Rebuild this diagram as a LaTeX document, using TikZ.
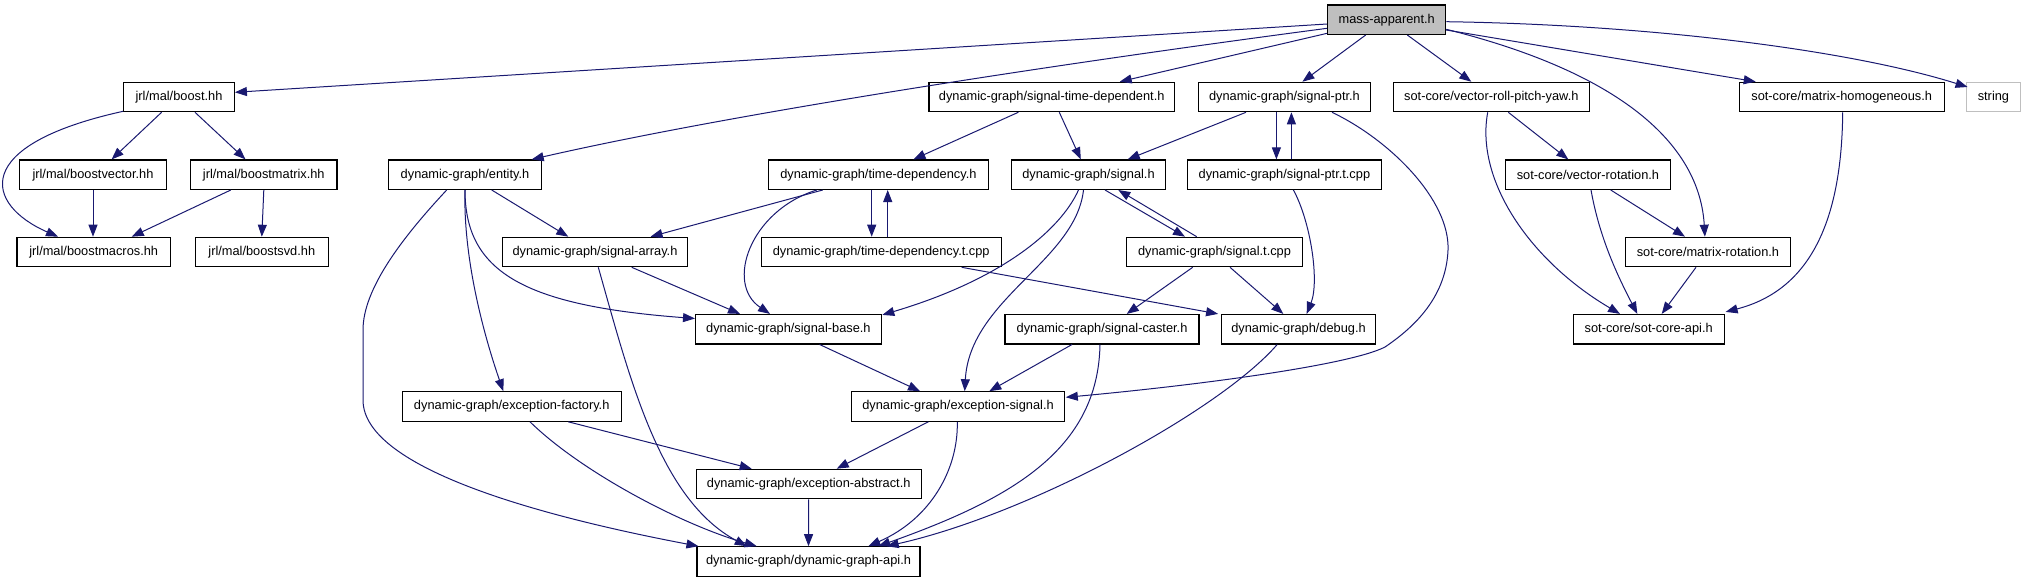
\documentclass[tikz,border=0pt]{standalone}
\usepackage{fontspec}
\setmainfont{Liberation Sans}
\usetikzlibrary{calc}
\usetikzlibrary{arrows.meta}
\tikzset{>={Triangle[length=12pt, width=9pt]}}
\definecolor{edgeblue}{RGB}{25,25,112}
\definecolor{boxgray}{RGB}{191,191,191}

\begin{document}
\begin{tikzpicture}[x=1pt, y=-1pt,
	file/.style={draw, line width=1.1pt, minimum height=29.5pt, inner sep=0pt, font=\fontsize{12.8}{15}\selectfont},
	dep/.style={edgeblue, line width=1pt, ->}]
\useasboundingbox (0, 0) rectangle (2025, 581);

\node (M) at (1386.7, 19.7) [file, fill=boxgray, minimum width=118pt] {mass-apparent.h};

\node (boost) at (179, 97) [file, minimum width=110.7pt] {jrl/mal/boost.hh};
\node (STD) at (1051.7, 97) [file, minimum width=245.5pt] {dynamic-graph/signal-time-dependent.h};
\node (SP) at (1284.4, 97) [file, minimum width=172.7pt] {dynamic-graph/signal-ptr.h};
\node (VRPY) at (1491.3, 97) [file, minimum width=196.5pt] {sot-core/vector-roll-pitch-yaw.h};
\node (MH) at (1841.7, 97) [file, minimum width=204.7pt] {sot-core/matrix-homogeneous.h};
\node (string) at (1993.4, 97) [file, draw=boxgray, minimum width=54pt] {string};

\node (BV) at (93, 174.7) [file, minimum width=147pt] {jrl/mal/boostvector.hh};
\node (BM) at (263.8, 174.7) [file, minimum width=146.4pt] {jrl/mal/boostmatrix.hh};
\node (entity) at (465, 174.7) [file, minimum width=152.3pt] {dynamic-graph/entity.h};
\node (TD) at (878.4, 174.7) [file, minimum width=219.3pt] {dynamic-graph/time-dependency.h};
\node (S) at (1088.5, 174.7) [file, minimum width=153.7pt] {dynamic-graph/signal.h};
\node (SPT) at (1284.4, 174.7) [file, minimum width=193.3pt] {dynamic-graph/signal-ptr.t.cpp};
\node (VR) at (1587.9, 174.7) [file, minimum width=165.7pt] {sot-core/vector-rotation.h};

\node (BMac) at (93.7, 252) [file, minimum width=153.5pt] {jrl/mal/boostmacros.hh};
\node (BSVD) at (261.8, 252) [file, minimum width=132.5pt] {jrl/mal/boostsvd.hh};
\node (SA) at (595, 252) [file, minimum width=185.5pt] {dynamic-graph/signal-array.h};
\node (TDT) at (881.2, 252) [file, minimum width=240.3pt] {dynamic-graph/time-dependency.t.cpp};
\node (ST) at (1214.5, 252) [file, minimum width=175.6pt] {dynamic-graph/signal.t.cpp};
\node (MR) at (1707.9, 252) [file, minimum width=165.7pt] {sot-core/matrix-rotation.h};

\node (SB) at (788.4, 329.2) [file, minimum width=185.7pt] {dynamic-graph/signal-base.h};
\node (SC) at (1102, 329.2) [file, minimum width=194pt] {dynamic-graph/signal-caster.h};
\node (debug) at (1298.5, 329.2) [file, minimum width=153.7pt] {dynamic-graph/debug.h};
\node (SCA) at (1648.7, 329.2) [file, minimum width=150.7pt] {sot-core/sot-core-api.h};

\node (EF) at (511.7, 406.5) [file, minimum width=218.7pt] {dynamic-graph/exception-factory.h};
\node (ES) at (958, 406.5) [file, minimum width=212.5pt] {dynamic-graph/exception-signal.h};
\node (EA) at (808.7, 484) [file, minimum width=225.3pt] {dynamic-graph/exception-abstract.h};
\node (API) at (808.5, 561.5) [file, minimum width=223pt] {dynamic-graph/dynamic-graph-api.h};

% mass-apparent.h
\draw [dep] ($(M.west)+(0,4.3)$) -- ($(boost.east)+(0,-4.7)$);
\draw [dep] ($(M.west)+(0,8.6)$) .. controls +(-228,30) and +(219,-50) .. ($(entity.north east)+(-10,0)$);
\draw [dep] ($(M.west)+(0,13.6)$) -- ($(STD.north)+(68,0)$);
\draw [dep] ($(M.south)+(-21,0)$) -- ($(SP.north)+(18,0)$);
\draw [dep] ($(M.south)+(20.6,0)$) -- ($(VRPY.north)+(-20,0)$);
\draw [dep] ($(M.east)+(0,9.6)$) .. controls +(184,46) and +(-5,-87) .. ($(MR.north)+(-3,0)$);
\draw [dep] ($(M.east)+(0,10.3)$) -- ($(MH.north)+(-86,0)$);
\draw [dep] ($(M.east)+(0,2)$) .. controls +(204,3) and +(-118,-37) .. ($(string.west)+(1.7,-10)$);

% jrl/mal
\draw [dep] ($(boost.south west)+(0,-1)$) .. controls +(-154,34) and +(-73,-32) .. ($(BMac.north)+(-35.7,0)$);
\draw [dep] ($(boost.south)+(-17.4,0)$) -- ($(BV.north)+(18.6,0)$);
\draw [dep] ($(boost.south)+(16,0)$) -- ($(BM.north)+(-18.3,0)$);
\draw [dep] (BV.south) -- (BV.south |- BMac.north);
\draw [dep] ($(BM.south)+(-33,0)$) -- ($(BMac.north)+(38,0)$);
\draw [dep] (BM.south) -- (BSVD.north);

% entity.h
\draw [dep] ($(entity.south)+(26.7,0)$) -- ($(SA.north)+(-26.7,0)$);
\draw [dep] (entity.south) .. controls +(0,81) and +(-173,-13) .. ($(SB.west)+(0,-10.7)$);
\draw [dep] (entity.south) .. controls +(-2,71) and +(-18,-52) .. ($(EF.north)+(-8.4,0)$);
\draw [dep] ($(entity.south)+(-18.3,0)$) .. controls (400, 240) and (363, 290) .. (363, 330) -- (363, 400)
	.. controls (363, 470) and (550, 518) .. ($(API.north west)+(2,0)$);

% signal-array.h
\draw [dep] ($(SA.south)+(36.7,0)$) -- ($(SB.north)+(-48.4,0)$);
\draw [dep] ($(SA.south)+(3.3,0)$) .. controls +(32,113) and +(-87,-47) .. ($(API.north)+(-61.8,0)$);

% signal-time-dependent.h, signal-ptr.h
\draw [dep] ($(STD.south)+(-33.4,0)$) -- ($(TD.north)+(35,0)$);
\draw [dep] ($(STD.south)+(7.6,0)$) -- ($(S.north)+(-7.7,0)$);
\draw [dep] ($(SP.south)+(-38.4,0)$) -- ($(S.north)+(39.2,0)$);
\draw [dep] ($(SP.south)+(-8,0)$) -- ($(SPT.north)+(-8,0)$);
\draw [dep] ($(SPT.north)+(7,0)$) -- ($(SP.south)+(7,0)$);
\draw [dep] ($(SP.south)+(47.6,0)$) .. controls (1390, 140) and (1450, 200) .. (1448, 250)
	.. controls (1446, 300) and (1410, 330) .. (1385, 347)
	.. controls (1350, 365) and (1200, 385) .. ($(ES.east)+(1,-9.2)$);

% time-dependency.h
\draw [dep] ($(TD.south)+(-55.7,0)$) -- ($(SA.north east)+(-37.8,0)$);
\draw [dep] ($(TD.south)+(-61.7,0)$) .. controls +(-67,21) and +(-45,-30) .. ($(SB.north)+(-18.4,0)$);
\draw [dep] ($(TD.south)+(-6.7,0)$) -- ($(TDT.north)+(-9.5,0)$);
\draw [dep] ($(TDT.north)+(6.5,0)$) -- ($(TD.south)+(9.3,0)$);
\draw [dep] ($(TDT.south)+(80.5,0)$) -- ($(debug.north west)+(-3,0)$);

% signal.h
\draw [dep] ($(S.south)+(-10,0)$) .. controls +(-18.5,41) and +(118,-35) .. ($(SB.north east)+(0.5,1)$);
\draw [dep] ($(S.south)+(-5,0)$) .. controls +(-8,71) and +(5,-92) .. ($(ES.north)+(6.7,0)$);
\draw [dep] ($(S.south)+(16.5,0)$) -- ($(ST.north)+(-29.5,0)$);
\draw [dep] ($(ST.north)+(-17.8,0)$) -- ($(S.south)+(29.8,0)$);
\draw [dep] ($(ST.south)+(-21.8,0)$) -- ($(SC.north)+(24.7,0)$);
\draw [dep] ($(ST.south)+(15.5,0)$) -- ($(debug.north)+(-15.2,0)$);
\draw [dep] ($(SPT.south)+(9,0)$) .. controls +(17,31) and +(13,-33) .. ($(debug.north)+(8.2,0)$);

% signal-base.h, signal-caster.h, debug.h
\draw [dep] ($(SB.south)+(31.2,0)$) -- ($(ES.north)+(-38,0)$);
\draw [dep] ($(SC.south)+(-30,0)$) -- ($(ES.north)+(31.3,0)$);
\draw [dep] ($(SC.south)+(-2,0)$) .. controls +(-2,106) and +(132,-47) .. ($(API.north)+(69.8,0)$);
\draw [dep] ($(debug.south)+(-21.3,0)$) .. controls +(-57,66) and +(143,-32) .. ($(API.north)+(78.2,0)$);

% exceptions
\draw [dep] ($(ES.south)+(-29.7,0)$) -- ($(EA.north)+(28,0)$);
\draw [dep] ($(ES.south)+(-0.7,0)$) .. controls +(1,48) and +(62,-27) .. ($(API.north)+(59.8,0)$);
\draw [dep] ($(EF.south)+(56.6,0)$) -- ($(EA.north)+(-57,0)$);
\draw [dep] ($(EF.south)+(18.3,0)$) .. controls +(50,49) and +(-77,-22) .. ($(API.north)+(-51.8,0)$);
\draw [dep] (EA.south) -- (API.north);

% sot-core
\draw [dep] ($(VRPY.south)+(17,0)$) -- ($(VR.north)+(-19.6,0)$);
\draw [dep] ($(VRPY.south)+(-3.6,0)$) .. controls +(-12.7,68) and +(-90,-53) .. ($(SCA.north)+(-28.7,0)$);
\draw [dep] ($(VR.south)+(22.8,0)$) -- ($(MR.north)+(-22.9,0)$);
\draw [dep] ($(VR.south)+(3.1,0)$) .. controls +(9,51) and +(-17,-33) .. ($(SCA.north)+(-11.4,0)$);
\draw [dep] ($(MR.south)+(-11.9,0)$) -- ($(SCA.north)+(13,0)$);
\draw [dep] ($(MH.south)+(1,0)$) .. controls +(-1,108) and +(85,-22) .. ($(SCA.north east)+(1,-2)$);
\end{tikzpicture}
\end{document}
